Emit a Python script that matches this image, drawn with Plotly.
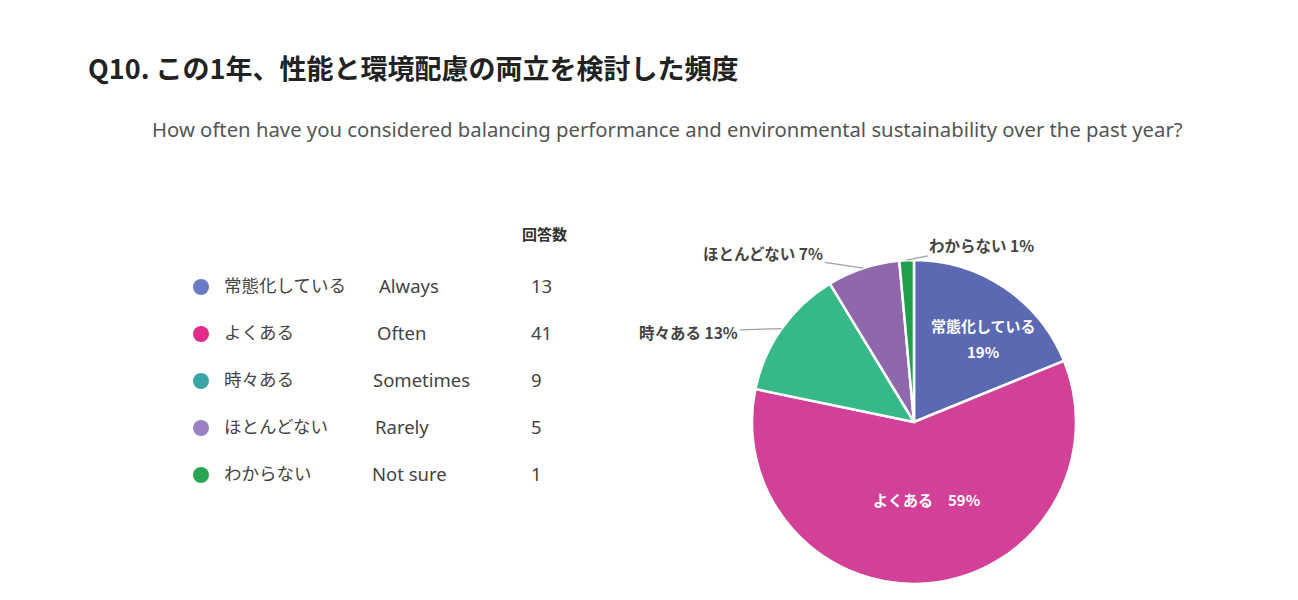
import math
import plotly.graph_objects as go

# ---- data ----
labels_jp = ["常態化している", "よくある", "時々ある", "ほとんどない", "わからない"]
labels_en = ["Always", "Often", "Sometimes", "Rarely", "Not sure"]
counts = [13, 41, 9, 5, 1]
title_text = "Q10. この1年、性能と環境配慮の両立を検討した頻度"
subtitle_text = "How often have you considered balancing performance and environmental sustainability over the past year?"
header_text = "回答数"

# ---- styles ----
W, H = 1298, 600
pie_colors = ["#5a69b1", "#d24197", "#37b887", "#8e68ab", "#20a04a"]
dot_colors = ["#6a7cc5", "#e32c8a", "#3aa5a7", "#9b80c2", "#2aa652"]
JP = "Noto Sans CJK JP"
cx, cy, R = 914, 422, 162
row0, row_gap = 287, 47
en_x = [379, 377, 373, 375, 372]

fig = go.Figure()

# pie
fig.add_trace(go.Pie(
    labels=labels_jp, values=counts, sort=False, direction="clockwise", rotation=0,
    marker=dict(colors=pie_colors, line=dict(color="white", width=2.5)),
    textinfo="none", hoverinfo="label+percent", showlegend=False,
    domain=dict(x=[(cx - R) / W, (cx + R) / W], y=[1 - (cy + R) / H, 1 - (cy - R) / H]),
))

rows = [row0 + row_gap * i for i in range(len(counts))]
text_rows = [r + 1 for r in rows]
# legend table
fig.add_trace(go.Scatter(x=[201] * len(rows), y=rows, mode="markers",
                         marker=dict(size=16, color=dot_colors), showlegend=False, hoverinfo="skip"))
fig.add_trace(go.Scatter(x=[224] * len(rows), y=text_rows, mode="text", text=labels_jp,
                         textposition="middle right", textfont=dict(family=JP, size=17.5, color="#444"),
                         showlegend=False, hoverinfo="skip"))
fig.add_trace(go.Scatter(x=en_x, y=text_rows, mode="text", text=labels_en,
                         textposition="middle right", textfont=dict(family="Noto Sans", size=18.5, color="#444"),
                         showlegend=False, hoverinfo="skip"))
fig.add_trace(go.Scatter(x=[531] * len(rows), y=text_rows, mode="text", text=[str(c) for c in counts],
                         textposition="middle right", textfont=dict(family="Noto Sans", size=18.5, color="#444"),
                         showlegend=False, hoverinfo="skip"))

annotations = [
    dict(x=86, y=67, text=title_text, showarrow=False, xanchor="left", yanchor="middle",
         font=dict(family=JP, size=27, color="#222", weight="bold")),
    dict(x=667, y=129, text=subtitle_text, showarrow=False, xanchor="center", yanchor="middle",
         font=dict(family="Noto Sans", size=20.3, color="#555")),
    dict(x=544, y=233, text=header_text, showarrow=False, xanchor="center", yanchor="middle",
         font=dict(family=JP, size=15, color="#333", weight="bold")),
]

# pie labels placed from slice geometry
total = sum(counts)
pcts = [round(100 * c / total) for c in counts]
mids = []
start = 90.0
for c in counts:
    span = 360.0 * c / total
    mids.append(math.radians(start - span / 2))
    start -= span

inside_font = dict(family=JP, size=15, color="white", weight="bold")
# slice 0: two lines with wider spacing
a = mids[0]
x0, y0 = cx + 0.62 * R * math.cos(a) + 13, cy - 0.62 * R * math.sin(a)
annotations.append(dict(x=x0, y=y0, yshift=13, text=labels_jp[0], showarrow=False, font=inside_font))
annotations.append(dict(x=x0, y=y0, yshift=-13, text=f"{pcts[0]}%", showarrow=False, font=inside_font))
# slice 1
a = mids[1]
annotations.append(dict(x=cx + 0.48 * R * math.cos(a) + 5, y=cy - 0.48 * R * math.sin(a),
                        text=f"{labels_jp[1]}　{pcts[1]}%", showarrow=False, font=inside_font))

offsets = {2: (-93, 3), 3: (-100, -15), 4: (75, -15)}
for i, (ax, ay) in offsets.items():
    a = mids[i]
    annotations.append(dict(x=cx + R * math.cos(a), y=cy - R * math.sin(a),
                            text=f"{labels_jp[i]} {pcts[i]}%", showarrow=True, arrowhead=0,
                            arrowwidth=1.3, arrowcolor="#a0a0a0", ax=ax, ay=ay, standoff=0,
                            font=dict(family=JP, size=15.5, color="#444", weight="bold")))

fig.update_layout(
    width=W, height=H, margin=dict(l=0, r=0, t=0, b=0),
    paper_bgcolor="white", plot_bgcolor="rgba(0,0,0,0)",
    xaxis=dict(range=[0, W], visible=False, fixedrange=True),
    yaxis=dict(range=[H, 0], visible=False, fixedrange=True),
    annotations=annotations, showlegend=False,
)
fig.write_html("out.html")
